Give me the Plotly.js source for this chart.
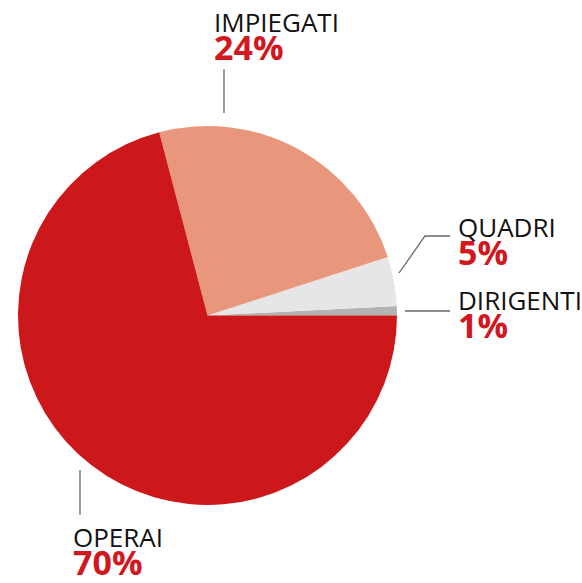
<!DOCTYPE html>
<html>
<head>
<meta charset="utf-8">
<script src="https://cdn.plot.ly/plotly-3.0.1.min.js"></script>
<style>html,body{margin:0;padding:0;background:#fff;}#chart{width:582px;height:583px;}</style>
</head>
<body>
<div id="chart"></div>
<script>
// Data (order: counterclockwise from 3 o'clock)
const categories = ["DIRIGENTI", "QUADRI", "IMPIEGATI", "OPERAI"];
const values = [0.8, 4.2, 24.1, 70.9];
const percentLabels = ["1%", "5%", "24%", "70%"];
const sliceColors = ["#b3b3b3", "#e6e6e6", "#e8977c", "#cd181b"];

const W = 582, H = 583;
const px = x => x / W;
const py = y => 1 - y / H;

// label layout (pixel position of the top-left of each label block)
const labelPos = {
  "DIRIGENTI": {x: 456, y: 280},
  "QUADRI":    {x: 456, y: 207},
  "IMPIEGATI": {x: 212, y: 2},
  "OPERAI":    {x: 71,  y: 517}
};
// leader lines (pixel polylines)
const leaders = [
  [[405, 311], [450, 311]],
  [[399, 273], [425, 236], [450, 236]],
  [[224, 69], [224, 113]],
  [[80, 470], [80, 515]]
];

const annotations = categories.map((c, i) => {
  const p = labelPos[c];
  return {
    xref: 'paper', yref: 'paper', x: px(p.x), y: py(p.y),
    xanchor: 'left', yanchor: 'top', align: 'left', showarrow: false,
    text: '<span style="font-size:26px;color:#111111">' + c + '</span><br>' +
          '<span style="font-size:34px;color:#d2171e"><b>' + percentLabels[i] + '</b></span>',
    font: {family: 'Open Sans, sans-serif', size: 21.5, color: '#111111'}
  };
});

const shapes = leaders.map(pts => ({
  type: 'path', xref: 'paper', yref: 'paper',
  path: pts.map((p, k) => (k ? 'L' : 'M') + px(p[0]) + ',' + py(p[1])).join(' '),
  line: {color: '#666666', width: 1.3}
}));

const total = values.reduce((a, b) => a + b, 0);
const trace = {
  type: 'pie',
  labels: categories,
  values: values,
  sort: false,
  direction: 'counterclockwise',
  // plotly starts the first slice on the clockwise side of the rotation line
  rotation: 90 - values[0] / total * 360,
  textinfo: 'none',
  hoverinfo: 'label+percent',
  marker: {colors: sliceColors, line: {width: 0}},
  domain: {x: [px(18), px(397)], y: [py(505), py(126)]},
  showlegend: false
};

Plotly.newPlot('chart', [trace], {
  width: W, height: H,
  margin: {l: 0, r: 0, t: 0, b: 0},
  paper_bgcolor: '#ffffff',
  showlegend: false,
  annotations: annotations,
  shapes: shapes
}, {displayModeBar: false, staticPlot: true});
</script>
</body>
</html>
